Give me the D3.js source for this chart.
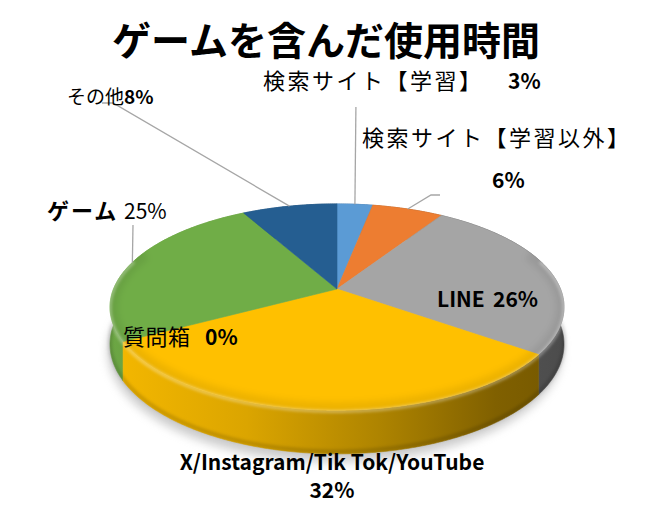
<!DOCTYPE html>
<html><head><meta charset="utf-8">
<script src="https://cdn.jsdelivr.net/npm/d3@7"></script>
<style>
html,body{margin:0;padding:0;background:#fff;}
text{font-family:"Noto Sans CJK JP","Noto Sans",sans-serif;fill:#000;}
</style></head>
<body>
<svg id="chart" width="663" height="523"></svg>
<script>
// ---- data ----
const title = "ゲームを含んだ使用時間";
const categories = ["検索サイト【学習】","検索サイト【学習以外】","LINE","X/Instagram/Tik Tok/YouTube","質問箱","ゲーム","その他"];
const values = [3, 6, 26, 32, 0, 25, 8];
const colors = ["#5B9BD5","#ED7D31","#A5A5A5","#FFC000","#4472C4","#70AD47","#255E91"];

// ---- layout ----
const cx = 337, cy = 289;      // apex of pie
const RS = 223.5;              // horizontal radius on screen
const ERS = 100;               // vertical radius factor
const K = 0.175;               // perspective strength
const DEPTH = 36;              // thickness

const svg = d3.select("#chart");
const defs = svg.append("defs");

function proj(a, r, down) {
  const w = 1 + K * r * Math.cos(a);
  return [cx + RS * r * Math.sin(a) / w, cy - ERS * r * Math.cos(a) / w + (down || 0) / w];
}
function rimPts(a0, a1, down) {
  const n = Math.max(2, Math.ceil((a1 - a0) / 0.01));
  const pts = [];
  for (let i = 0; i <= n; i++) pts.push(proj(a0 + (a1 - a0) * i / n, 1, down));
  return pts;
}
const line = d3.line();

const pie = d3.pie().sort(null).value(d => d).startAngle(0).endAngle(2 * Math.PI);
const arcs = pie(values).map((d, i) => ({...d, i, color: colors[i], name: categories[i]}));

// filters
const fShadow = defs.append("filter").attr("id", "shadow").attr("x", "-20%").attr("y", "-20%").attr("width", "140%").attr("height", "140%");
fShadow.append("feGaussianBlur").attr("stdDeviation", 5);
const fSoft = defs.append("filter").attr("id", "soft").attr("x", "-10%").attr("y", "-10%").attr("width", "120%").attr("height", "120%");
fSoft.append("feGaussianBlur").attr("stdDeviation", 1.6);
const fSoft2 = defs.append("filter").attr("id", "soft2").attr("x", "-10%").attr("y", "-10%").attr("width", "120%").attr("height", "120%");
fSoft2.append("feGaussianBlur").attr("stdDeviation", 3);

// shadow below pie
svg.append("path")
  .attr("d", line(rimPts(0, 2 * Math.PI, DEPTH + 5)) + "Z")
  .attr("fill", "#9a9a9a").attr("opacity", 0.5)
  .attr("transform", "translate(-2,2)")
  .attr("filter", "url(#shadow)");

// side walls
const xExt = d3.extent(rimPts(0, 2 * Math.PI, 0), p => p[0]);
arcs.filter(d => d.endAngle > d.startAngle).forEach(d => {
  const c = d3.color(d.color);
  const g = defs.append("linearGradient").attr("id", "side" + d.i)
    .attr("gradientUnits", "userSpaceOnUse")
    .attr("x1", xExt[0]).attr("x2", xExt[1]).attr("y1", 0).attr("y2", 0);
  const mul = f => d3.rgb(c.r * f, c.g * f, c.b * f).formatHex();
  [[0, 0.96], [0.3, 0.86], [0.6, 0.68], [0.85, 0.5], [1, 0.46]].forEach(s =>
    g.append("stop").attr("offset", s[0]).attr("stop-color", mul(s[1])));
  const top = rimPts(d.startAngle, d.endAngle, 0);
  const bot = rimPts(d.startAngle, d.endAngle, DEPTH).reverse();
  d.sidePath = line(top.concat(bot)) + "Z";
  d.depthKey = Math.cos((d.startAngle + d.endAngle) / 2);
});
const sideArcs = arcs.filter(d => d.sidePath).sort((a, b) => b.depthKey - a.depthKey);
svg.append("g").selectAll("path").data(sideArcs).join("path")
  .attr("d", d => d.sidePath)
  .attr("fill", d => "url(#side" + d.i + ")")
  .attr("stroke", d => "url(#side" + d.i + ")").attr("stroke-width", 0.6);

// bottom edge darkening
svg.append("path")
  .attr("d", line(rimPts(Math.PI / 2 - 0.2, 3 * Math.PI / 2 + 0.2, DEPTH - 2)))
  .attr("fill", "none").attr("stroke", "#000").attr("stroke-opacity", 0.15)
  .attr("stroke-width", 4).attr("filter", "url(#soft)");

// top faces
const topPath = d => line([[cx, cy]].concat(rimPts(d.startAngle, d.endAngle, 0))) + "Z";
svg.append("g").selectAll("path").data(arcs.filter(d => d.endAngle > d.startAngle)).join("path")
  .attr("d", topPath)
  .attr("fill", d => d.color)
  .attr("stroke", d => d.color).attr("stroke-width", 0.6);

// bevel: slight shade just inside the rim, then highlight on the rim
defs.append("clipPath").attr("id", "topclip")
  .append("path").attr("d", line(rimPts(0, 2 * Math.PI, 0)) + "Z");
svg.append("path")
  .attr("d", line(rimPts(Math.PI / 2 - 0.4, 3 * Math.PI / 2 + 0.4, 0)))
  .attr("fill", "none").attr("stroke", "#000").attr("stroke-opacity", 0.07)
  .attr("stroke-width", 16).attr("filter", "url(#soft2)")
  .attr("clip-path", "url(#topclip)");
svg.append("path")
  .attr("d", line(rimPts(Math.PI / 2 - 0.3, 3 * Math.PI / 2 + 0.3, 1)))
  .attr("fill", "none").attr("stroke", "#fff").attr("stroke-opacity", 0.35)
  .attr("stroke-width", 3).attr("filter", "url(#soft)");

// leader lines
const mid = d => proj((d.startAngle + d.endAngle) / 2, 1, 0);
const leaders = [
  {i: 6, pts: d => [[102, 103], [113, 103], mid(d)]},
  {i: 0, pts: d => [[mid(d)[0] + 1, 107], mid(d)]},
  {i: 1, pts: d => [[440, 195], [431, 195], mid(d)]},
  {i: 5, pts: d => [[133, 225], mid(d)]}
];
svg.append("g").selectAll("path").data(leaders).join("path")
  .attr("d", l => line(l.pts(arcs[l.i])))
  .attr("fill", "none").attr("stroke", "#A6A6A6").attr("stroke-width", 1.3);

// title
svg.append("text").attr("x", 326).attr("y", 55).attr("text-anchor", "middle")
  .attr("font-size", 39).attr("font-weight", "bold").text(title);

const pct = v => v + "%";
function label(x, y, parts) {
  const t = svg.append("text").attr("x", x).attr("y", y);
  parts.forEach(p => {
    const s = t.append("tspan").text(p.t).attr("font-size", p.size || 21).attr("font-weight", p.bold ? "bold" : "normal");
    if (p.x !== undefined) s.attr("x", p.x);
    if (p.ls) s.attr("letter-spacing", p.ls);
  });
  return t;
}
// その他
label(67, 104, [{t: categories[6], size: 19}, {t: pct(values[6]), size: 19, bold: true}]);
// 検索サイト【学習】
label(263, 89, [{t: categories[0], size: 22, ls: 2.5}, {t: pct(values[0]), size: 21, bold: true, x: 508}]);
// 検索サイト【学習以外】
label(362, 146, [{t: categories[1], size: 22, ls: 2.5}]);
label(492, 188, [{t: pct(values[1]), size: 21, bold: true}]);
// ゲーム
label(47, 219, [{t: categories[5], size: 22, bold: true, ls: 2}, {t: pct(values[5]), size: 21, x: 124}]);
// LINE
label(437, 307, [{t: categories[2], size: 21, bold: true}, {t: pct(values[2]), size: 21, bold: true, x: 493}]);
// 質問箱
label(123, 345, [{t: categories[4], size: 22, ls: 0.5}, {t: pct(values[4]), size: 21, bold: true, x: 205}]);
// X/Instagram...
svg.append("text").attr("x", 332).attr("y", 470).attr("text-anchor", "middle")
  .attr("font-size", 21).attr("font-weight", "bold").text(categories[3]);
svg.append("text").attr("x", 332).attr("y", 498).attr("text-anchor", "middle")
  .attr("font-size", 21).attr("font-weight", "bold").text(pct(values[3]));
</script>
</body></html>
